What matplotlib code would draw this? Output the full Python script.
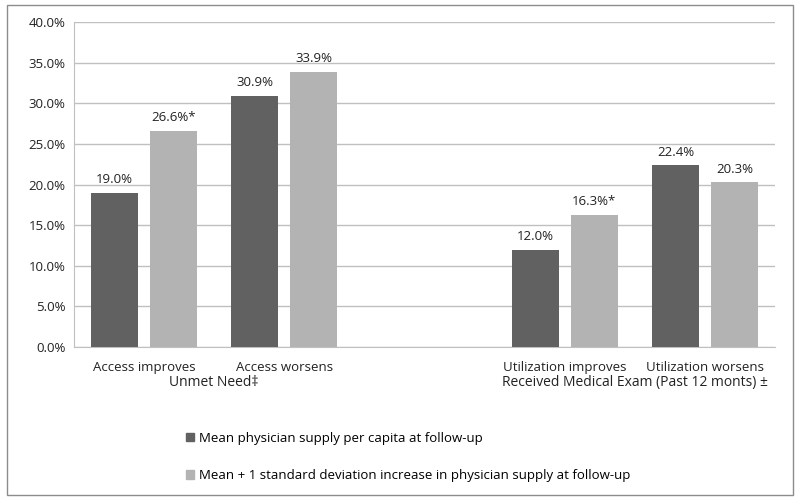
import matplotlib
matplotlib.use("Agg")
import matplotlib.pyplot as plt
from matplotlib.patches import Rectangle
import numpy as np

categories = ["Access improves", "Access worsens", "", "Utilization improves", "Utilization worsens"]
mean_vals = [19.0, 30.9, None, 12.0, 22.4]
sd_vals = [26.6, 33.9, None, 16.3, 20.3]
mean_labels = ["19.0%", "30.9%", "", "12.0%", "22.4%"]
sd_labels = ["26.6%*", "33.9%", "", "16.3%*", "20.3%"]
groups = ["Unmet Need\u2021", "Received Medical Exam (Past 12 monts) \u00b1"]
series_names = ["Mean physician supply per capita at follow-up",
                "Mean + 1 standard deviation increase in physician supply at follow-up"]
yticks = [0, 5, 10, 15, 20, 25, 30, 35, 40]

plt.rcParams['font.family'] = ['Open Sans', 'DejaVu Sans']
dark = "#616161"
light = "#b3b3b3"

fig = plt.figure(figsize=(8, 5.03), dpi=100)
ax = fig.add_axes([74/800, 1-347/503, (775-74)/800, (347-22)/503])

x = np.arange(len(categories))
w = 0.335
off = 0.21
for i in range(len(categories)):
    if mean_vals[i] is None:
        continue
    ax.bar(x[i]-off, mean_vals[i], w, color=dark, zorder=3)
    ax.bar(x[i]+off, sd_vals[i], w, color=light, zorder=3)
    ax.text(x[i]-off, mean_vals[i]+0.8, mean_labels[i], ha='center', va='bottom', fontsize=9.5, color='#222222')
    ax.text(x[i]+off, sd_vals[i]+0.8, sd_labels[i], ha='center', va='bottom', fontsize=9.5, color='#222222')

ax.set_xlim(-0.5, len(categories)-0.5)
ax.set_ylim(0, 40)
ax.set_yticks(yticks)
ax.set_yticklabels([f"{v:.1f}%" for v in yticks], fontsize=9.5, color='#222222')
ax.set_xticks(x)
ax.set_xticklabels(categories, fontsize=9.5, color='#222222')
ax.tick_params(axis='both', length=0, pad=6)
ax.tick_params(axis='x', pad=10)
ax.grid(axis='y', color='#c0c0c0', linewidth=1, zorder=0)
for s in ['top', 'right']:
    ax.spines[s].set_visible(False)
ax.spines['left'].set_color('#c0c0c0')
ax.spines['bottom'].set_color('#c0c0c0')

# group labels
ax.text(0.5, -0.11, groups[0], transform=ax.get_xaxis_transform(), ha='center', va='center', fontsize=10, color='#222222')
ax.text(3.5, -0.11, groups[1], transform=ax.get_xaxis_transform(), ha='center', va='center', fontsize=10, color='#222222')

# legend
handles = [Rectangle((0, 0), 1, 1, color=dark), Rectangle((0, 0), 1, 1, color=light)]
fig.legend(handles, series_names, loc='upper left', bbox_to_anchor=(174/800, 1-420/503),
           frameon=False, fontsize=9.5, handlelength=0.6, handleheight=0.6, handletextpad=0.4,
           labelspacing=1.85)

fig.patches.append(Rectangle((7/800, 1-495/503), 786/800, 490/503, transform=fig.transFigure,
                             fill=False, edgecolor='#8c8c8c', linewidth=1))
fig.savefig("out.png", dpi=100)
